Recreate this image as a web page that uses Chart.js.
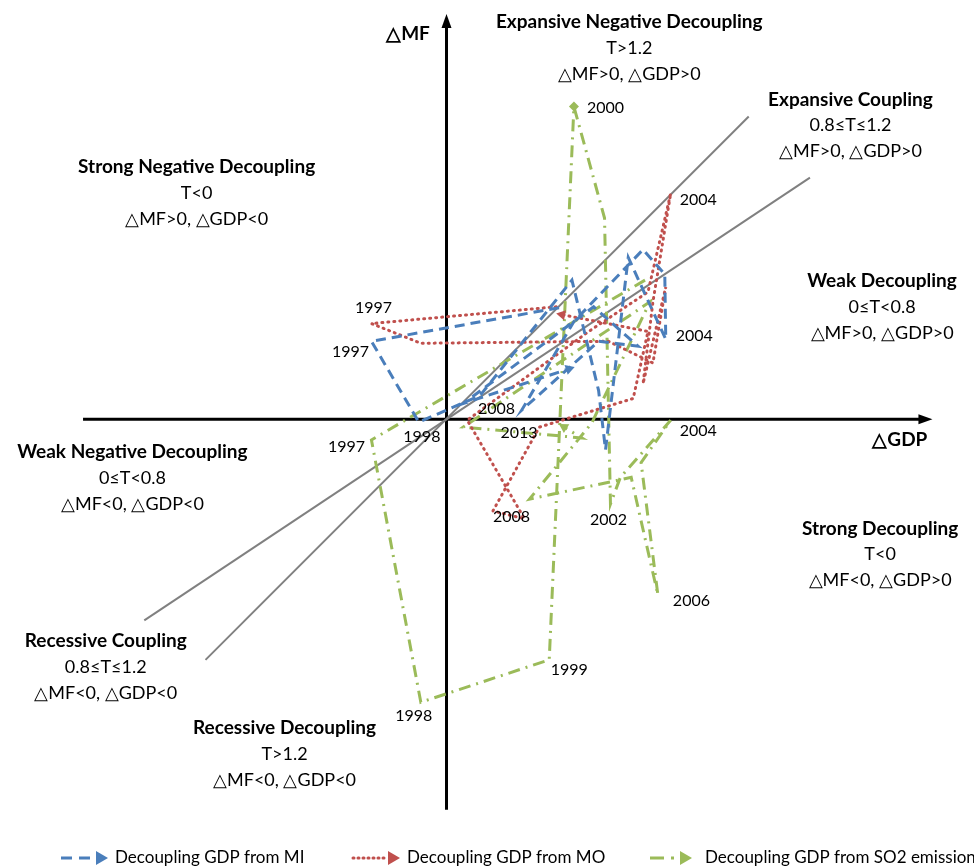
<!DOCTYPE html>
<html>
<head>
<meta charset="utf-8">
<script src="https://cdn.jsdelivr.net/npm/chart.js@4"></script>
<style>
html,body{margin:0;padding:0;background:#fff;}
#wrap{width:974px;height:868px;}
</style>
</head>
<body>
<div id="wrap"><canvas id="c" width="974" height="868"></canvas></div>
<script>
// ---- data (arbitrary decoupling-space units) ----
const years = ['1996','1997','1998','1999','2000','2001','2002','2003','2004','2005','2006','2007','2008','2009','2010','2011','2012','2013'];
const miX  = [1.14,-0.76,-0.28,0.34,1.27,1.54,1.61,1.84,2.22,2.21,1.99,1.29,0.76,1.54,1.94,1.49,0.17,1.24];
const miY  = [1.13,0.79,-0.03,0.24,1.41,0.29,-0.31,1.64,0.81,1.47,1.72,0.99,0.09,0.79,0.74,1.14,0.16,0.51];
const moX  = [1.11,-0.76,-0.26,1.64,2.09,2.22,1.99,2.09,2.27,2.04,1.44,0.21,0.79,0.47,0.94,1.89,2.04,1.17];
const moY  = [1.14,0.97,0.77,0.79,0.57,1.34,0.36,1.19,2.29,1.29,0.89,-0.01,-1.01,-0.93,-0.08,0.21,0.89,1.06];
const so2X = [2.01,-0.76,-0.26,1.04,1.29,1.60,1.66,1.76,2.27,1.97,2.14,1.87,0.84,1.47,2.06,0.17,1.37,1.19];
const so2Y = [1.41,-0.21,-2.87,-2.44,3.17,2.04,-0.86,-0.59,-0.01,-0.44,-1.78,-0.59,-0.81,-0.04,1.19,-0.08,-0.19,-0.08];
// reference lines T = 1.2 and T = 0.8
const t12X = [-2.44, 3.06], t12Y = [-2.44, 3.07];
const t08X = [-3.06, 3.68], t08Y = [-2.04, 2.45];
const seriesNames = ['Decoupling GDP from MI','Decoupling GDP from MO','Decoupling GDP from SO2 emission'];

const BLUE='#4A7EBB', RED='#C0504D', GREEN='#9BBB59', GREY='#808080';
const pts = (xs, ys) => xs.map((x,i)=>({x:x, y:ys[i]}));

function arrowRot(ctx){
  const ds = ctx.chart.data.datasets[ctx.datasetIndex].data;
  const i = ctx.dataIndex;
  if (i === 0) return 0;
  const sx = ctx.chart.scales.x, sy = ctx.chart.scales.y;
  const dx = sx.getPixelForValue(ds[i].x) - sx.getPixelForValue(ds[i-1].x);
  const dy = sy.getPixelForValue(ds[i].y) - sy.getPixelForValue(ds[i-1].y);
  return Math.atan2(dx, -dy) * 180 / Math.PI;
}
function seriesDs(label, xs, ys, color, dash, cap, diamondIdx){
  const last = xs.length - 1;
  return {
    label: label, data: pts(xs, ys), showLine: true, borderColor: color, backgroundColor: color,
    borderWidth: 3, borderDash: dash, borderCapStyle: cap, fill: false, tension: 0,
    pointRadius: c => (c.dataIndex === last ? 6 : (c.dataIndex === diamondIdx ? 5 : 0)),
    pointStyle: c => (c.dataIndex === diamondIdx ? 'rectRot' : 'triangle'),
    pointRotation: c => (c.dataIndex === last ? arrowRot(c) : 0),
    pointBorderWidth: 0, pointHoverRadius: 0
  };
}

const yearLabels = [
  {s:2,i:4,t:'2000',dx:13,dy:1,a:'left'},
  {s:1,i:8,t:'2004',dx:9,dy:6,a:'left'},
  {s:1,i:1,t:'1997',dx:2,dy:-16,a:'center'},
  {s:0,i:1,t:'1997',dx:-21,dy:11,a:'center'},
  {s:0,i:8,t:'2004',dx:10,dy:-3,a:'left'},
  {s:0,i:12,t:'2008',dx:-25,dy:-1,a:'center'},
  {s:0,i:2,t:'1998',dx:3,dy:15,a:'center'},
  {s:2,i:17,t:'2013',dx:-45,dy:6,a:'center'},
  {s:2,i:1,t:'1997',dx:-25,dy:7,a:'center'},
  {s:2,i:8,t:'2004',dx:9,dy:11,a:'left'},
  {s:1,i:12,t:'2008',dx:-13,dy:-2,a:'center'},
  {s:2,i:6,t:'2002',dx:-2,dy:16,a:'center'},
  {s:2,i:10,t:'2006',dx:15,dy:6,a:'left'},
  {s:2,i:3,t:'1999',dx:20,dy:10,a:'center'},
  {s:2,i:2,t:'1998',dx:-7,dy:14,a:'center'}
];
const zoneTexts = [
  {x:1.85,y:4.00,l:['Expansive Negative Decoupling','T>1.2','△MF>0, △GDP>0']},
  {x:4.09,y:3.21,l:['Expansive Coupling','0.8≤T≤1.2','△MF>0, △GDP>0']},
  {x:-2.53,y:2.53,l:['Strong Negative Decoupling','T<0','△MF>0, △GDP<0']},
  {x:4.41,y:1.37,l:['Weak Decoupling','0≤T<0.8','△MF>0, △GDP>0']},
  {x:-3.18,y:-0.36,l:['Weak Negative Decoupling','0≤T<0.8','△MF<0, △GDP<0']},
  {x:4.39,y:-1.14,l:['Strong Decoupling','T<0','△MF<0, △GDP>0']},
  {x:-3.45,y:-2.28,l:['Recessive Coupling','0.8≤T≤1.2','△MF<0, △GDP<0']},
  {x:-1.64,y:-3.16,l:['Recessive Decoupling','T>1.2','△MF<0, △GDP<0']}
];
const FONT = 'Lato, "Liberation Sans", sans-serif';

const decor = {
  id:'decor',
  beforeDatasetsDraw(chart){
    const c = chart.ctx, sx = chart.scales.x, sy = chart.scales.y;
    const ox = sx.getPixelForValue(0), oy = sy.getPixelForValue(0);
    c.save();
    c.strokeStyle = '#000'; c.fillStyle = '#000'; c.lineWidth = 3;
    // vertical axis
    const yTop = sy.getPixelForValue(4.11), yBot = sy.getPixelForValue(-3.96);
    c.beginPath(); c.moveTo(ox, yBot); c.lineTo(ox, yTop + 10); c.stroke();
    c.beginPath(); c.moveTo(ox, yTop); c.lineTo(ox - 5, yTop + 14); c.lineTo(ox + 5, yTop + 14); c.closePath(); c.fill();
    // horizontal axis
    const xL = sx.getPixelForValue(-3.68), xR = sx.getPixelForValue(4.92);
    c.beginPath(); c.moveTo(xL, oy); c.lineTo(xR - 10, oy); c.stroke();
    c.beginPath(); c.moveTo(xR, oy); c.lineTo(xR - 14, oy - 5); c.lineTo(xR - 14, oy + 5); c.closePath(); c.fill();
    c.restore();
  },
  afterDraw(chart){
    const c = chart.ctx, sx = chart.scales.x, sy = chart.scales.y;
    c.save();
    c.fillStyle = '#000'; c.textBaseline = 'middle';
    // axis titles
    c.font = 'bold 19px ' + FONT; c.textAlign = 'center';
    c.fillText('△MF', sx.getPixelForValue(-0.39), sy.getPixelForValue(3.89) - 2);
    c.fillText('△GDP', sx.getPixelForValue(4.59), sy.getPixelForValue(-0.23) - 2);
    // zone texts
    zoneTexts.forEach(z => {
      const px = sx.getPixelForValue(z.x), py = sy.getPixelForValue(z.y) - 3;
      z.l.forEach((line, k) => {
        c.font = (k === 0 ? 'bold 19px ' : '18px ') + FONT;
        c.fillText(line, px, py + k * 26);
      });
    });
    // year labels
    c.font = '16px ' + FONT;
    yearLabels.forEach(L => {
      const p = chart.data.datasets[L.s].data[L.i];
      c.textAlign = L.a;
      c.fillText(L.t, sx.getPixelForValue(p.x) + L.dx, sy.getPixelForValue(p.y) + L.dy);
    });
    // legend
    const leg = [
      {x:61, w:35, tx:115, col:BLUE, dash:[11,7], cap:'butt'},
      {x:353, w:35, tx:407, col:RED, dash:[1,4], cap:'round'},
      {x:650, w:30, tx:705, col:GREEN, dash:[14,7,3,7], cap:'butt'}
    ];
    const ly = 858;
    leg.forEach((g, k) => {
      c.strokeStyle = g.col; c.fillStyle = g.col; c.lineWidth = 3; c.setLineDash(g.dash); c.lineCap = g.cap;
      c.beginPath(); c.moveTo(g.x, ly); c.lineTo(g.x + g.w, ly); c.stroke();
      c.setLineDash([]);
      c.beginPath(); c.moveTo(g.x + g.w + 12, ly); c.lineTo(g.x + g.w, ly - 7); c.lineTo(g.x + g.w, ly + 7); c.closePath(); c.fill();
      c.fillStyle = '#000'; c.textAlign = 'left'; c.font = '17px ' + FONT;
      c.fillText(seriesNames[k], g.tx, ly);
    });
    c.restore();
  }
};

new Chart(document.getElementById('c'), {
  type: 'scatter',
  data: {
    datasets: [
      seriesDs(seriesNames[0], miX, miY, BLUE, [10,6], 'butt', -1),
      seriesDs(seriesNames[1], moX, moY, RED, [1,5], 'round', -1),
      seriesDs(seriesNames[2], so2X, so2Y, GREEN, [12,6,2,6], 'butt', 4),
      {label:'T=1.2', data: pts(t12X, t12Y), showLine:true, borderColor:GREY, borderWidth:2, pointRadius:0, fill:false},
      {label:'T=0.8', data: pts(t08X, t08Y), showLine:true, borderColor:GREY, borderWidth:2, pointRadius:0, fill:false}
    ]
  },
  options: {
    responsive: false, animation: false,
    layout: {padding: 0},
    plugins: {legend: {display: false}, tooltip: {enabled: false}},
    scales: {
      x: {type:'linear', min:-4.46, max:5.28, display:false},
      y: {type:'linear', min:-4.49, max:4.19, display:false}
    },
    events: []
  },
  plugins: [decor]
});
</script>
</body>
</html>
